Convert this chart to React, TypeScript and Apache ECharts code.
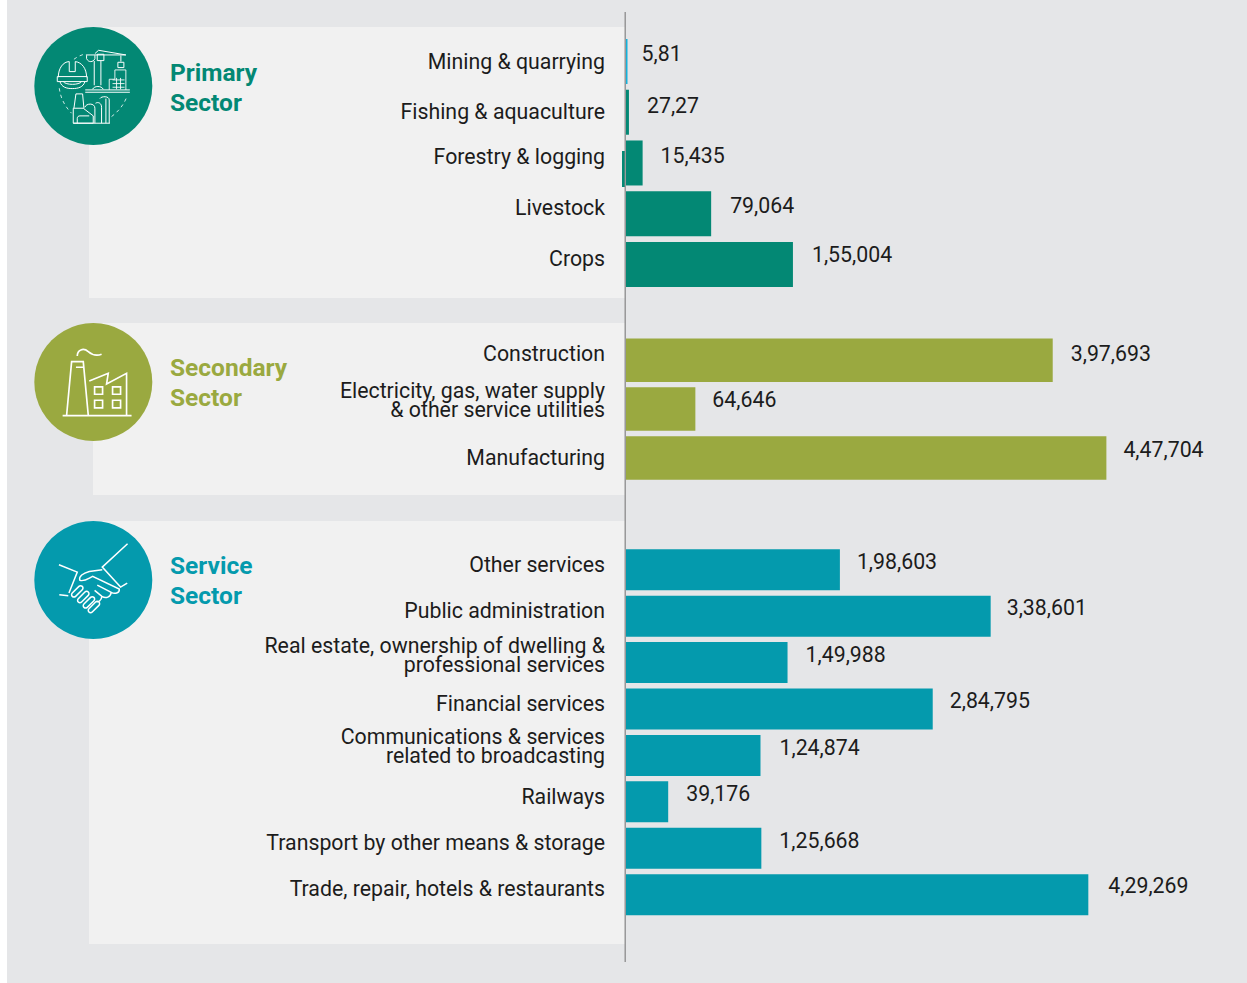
import React, { useEffect, useRef } from "react";
import * as echarts from "echarts";

// ---------- data ----------
const primaryCategories = ["Mining & quarrying", "Fishing & aquaculture", "Forestry & logging", "Livestock", "Crops"];
const primaryValues = [581, 2727, 15435, 79064, 155004];
const primaryLabels = ["5,81", "27,27", "15,435", "79,064", "1,55,004"];

const secondaryCategories = ["Construction", "Electricity, gas, water supply\n& other service utilities", "Manufacturing"];
const secondaryValues = [397693, 64646, 447704];
const secondaryLabels = ["3,97,693", "64,646", "4,47,704"];

const serviceCategories = [
  "Other services",
  "Public administration",
  "Real estate, ownership of dwelling &\nprofessional services",
  "Financial services",
  "Communications & services\nrelated to broadcasting",
  "Railways",
  "Transport by other means & storage",
  "Trade, repair, hotels & restaurants",
];
const serviceValues = [198603, 338601, 149988, 284795, 124874, 39176, 125668, 429269];
const serviceLabels = ["1,98,603", "3,38,601", "1,49,988", "2,84,795", "1,24,874", "39,176", "1,25,668", "4,29,269"];

// ---------- layout & style ----------
const GREEN = "#038874";
const OLIVE = "#9aa940";
const TEAL = "#049aad";
const CYAN = "#12b2dc";
const BG = "#e5e6e8";
const PANEL = "#f1f1f1";
const INK = "#1c1c1c";
const FONT = "Roboto";
const FS = 21.3;
const AXIS_X = 626;
const XMAX = 500000;

const sections = [
  { cats: primaryCategories, vals: primaryValues, labs: primaryLabels, color: GREEN, top: 36.1, pitch: 50.75, bar: 45, scale: 0.001077,
    catDy: [0, -1, -6, -6, -6], valDy: [-8, -7, -7, -8, -10], valDx: [14, 18, 18, 19, 19] },
  { cats: secondaryCategories, vals: secondaryValues, labs: secondaryLabels, color: OLIVE, top: 335.7, pitch: 48.9, bar: 43.5, scale: 0.001073,
    catDy: [-7, -9, 0], valDy: [-7, -10, -8], valDx: [18, 17, 17] },
  { cats: serviceCategories, vals: serviceValues, labs: serviceLabels, color: TEAL, top: 546.5, pitch: 46.43, bar: 41, scale: 0.001077,
    catDy: [-5, -6, -8, -6, -9, -5, -6, -6], valDy: [-8, -9, -8, -9, -8, -8, -8, -9], valDx: [17, 16, 18, 17, 19, 18, 18, 20] },
];

const shapes: Record<string, string> = {
  iconHelmet:
    "M175 232C175 205 190 185 208 185V215H226V185C245 187 260 205 260 232M172 230H262V245H172ZM180 245C185 262 200 266 217 266C235 266 250 262 255 245M190 245C197 256 238 256 245 245",
  iconCrane:
    "M283 183V256M303 183V256M278 268C283 257 305 257 310 268M256 270H390M256 277H390M258 165H378L296 151L285 161M260 166V176C265 188 280 188 285 176V166M292 163H312V182H292ZM363 167V185M354 187H372V203H354Z",
  iconBuilding:
    "M328 270V238H345V210H378V270M338 240H374M338 251H374M338 262H374M350 234V268M362 234V268",
  iconFactory:
    "M222 325L228 282H248L252 325M220 370V325H250L280 348V370ZM232 370V356C232 350 236 348 240 348H268M255 322C258 310 285 308 285 325V370M287 310C295 305 305 310 305 322V370M300 296C305 288 328 288 328 300V370M318 296V370M220 370H330",
  iconRing:
    "M178 265C182 295 195 320 215 340M335 350C355 335 372 315 381 290M222 178C232 170 245 165 255 162",
  iconStack:
    "M140 316L155 155H190L205 316M168 172H190M172 138C172 120 190 112 205 125C220 138 232 138 245 133M208 213L265 190L260 222L320 190V316M128 317H335M224 231H248V253H224ZM278 231H302V253H278ZM224 271H248V294H224ZM278 271H302V294H278Z",
  iconShake:
    "M117 765L172 787L147 850M118 855L145 858M323 702L247 772L302 832L322 820M247 780L208 785C190 790 175 800 180 812C195 816 205 806 218 800L298 838C300 850 284 854 274 848L232 826M274 848C272 862 258 868 246 860L224 842M246 860C244 872 236 878 230 876" +
    "M157 850L177 830A7 7 0 0 1 187 840L167 860A7 7 0 0 1 157 850Z" +
    "M175 867L195 847A7 7 0 0 1 205 857L185 877A7 7 0 0 1 175 867Z" +
    "M192 883L212 863A7 7 0 0 1 222 873L202 893A7 7 0 0 1 192 883Z" +
    "M207 897L227 877A7 7 0 0 1 237 887L217 907A7 7 0 0 1 207 897Z",
};
Object.entries(shapes).forEach(([name, d]) => {
  echarts.graphic.registerShape(name, echarts.graphic.extendPath(d, {}));
});

function icon(type: string, ox: number, oy: number, w: number, dash?: number[]) {
  return {
    type,
    x: ox,
    y: oy,
    scaleX: 1 / 3,
    scaleY: 1 / 3,
    silent: true,
    z: 12,
    style: { fill: "none", stroke: "#ffffff", lineWidth: w, lineDash: dash },
  };
}

function buildOption() {
  const grid = sections.map((s) => ({
    left: AXIS_X,
    top: s.top,
    width: XMAX * s.scale,
    height: s.pitch * s.cats.length,
    containLabel: false,
  }));
  const xAxis = sections.map((_, i) => ({
    type: "value",
    gridIndex: i,
    min: 0,
    max: XMAX,
    show: false,
  }));
  const yAxis = sections.map((s, i) => {
    const rich: Record<string, any> = {
      t: { fontFamily: FONT, fontSize: FS, lineHeight: 19, color: INK },
    };
    s.catDy.forEach((dy) => {
      if (dy !== 0) {
        const h = Math.abs(dy) * 2;
        rich["g" + h] = { fontSize: 1, lineHeight: h, height: h };
      }
    });
    return {
      type: "category",
      gridIndex: i,
      inverse: true,
      z: 6,
      data: s.cats,
      axisLine: { show: false },
      axisTick: { show: false },
      splitLine: { show: false },
      axisLabel: {
        interval: 0,
        margin: 21,
        color: INK,
        fontFamily: FONT,
        fontSize: FS,
        align: "right",
        rich,
        formatter: (val: string, idx: number) => {
          const body = val.split("\n").map((l) => `{t|${l}}`).join("\n");
          const dy = s.catDy[idx];
          return dy === 0 ? body : `${body}\n{g${Math.abs(dy) * 2}| }`;
        },
      },
    };
  });
  const series = sections.map((s, i) => ({
    type: "bar",
    xAxisIndex: i,
    yAxisIndex: i,
    barWidth: s.bar,
    barMinHeight: 1.5,
    z: 5,
    data: s.vals.map((v, j) => ({
      value: v,
      itemStyle: { color: i === 0 && j === 0 ? CYAN : s.color },
      label: {
        show: true,
        position: "right",
        distance: 0,
        offset: [s.valDx[j], s.valDy[j]],
        formatter: s.labs[j],
        color: INK,
        fontFamily: FONT,
        fontSize: FS,
      },
    })),
  }));

  const panel = (x: number, y: number, w: number, h: number) => ({
    type: "rect",
    silent: true,
    z: 1,
    shape: { x, y, width: w, height: h },
    style: { fill: PANEL },
  });
  const disc = (cy: number, fill: string) => ({
    type: "circle",
    silent: true,
    z: 10,
    shape: { cx: 93.3, cy, r: 59 },
    style: { fill },
  });
  const title = (text: string, y: number, fill: string) => ({
    type: "text",
    silent: true,
    z: 11,
    x: 170,
    y,
    style: { text, fill, fontFamily: FONT, fontWeight: "bold", fontSize: 24.5, lineHeight: 30, textAlign: "left", textVerticalAlign: "top" },
  });

  const graphic = [
    { type: "rect", silent: true, z: 0, shape: { x: 7, y: 0, width: 1240, height: 983 }, style: { fill: BG } },
    panel(89, 27, 536, 271),
    panel(93, 323, 532, 172),
    panel(89, 521, 536, 423),
    { type: "rect", silent: true, z: 3, shape: { x: 622, y: 151, width: 3, height: 36 }, style: { fill: GREEN } },
    { type: "line", silent: true, z: 8, shape: { x1: 625.2, y1: 12, x2: 625.2, y2: 962 }, style: { stroke: "#8c8c8c", lineWidth: 1.3 } },
    disc(86, GREEN),
    disc(382, OLIVE),
    disc(580, TEAL),
    title("Primary\nSector", 57, GREEN),
    title("Secondary\nSector", 352, OLIVE),
    title("Service\nSector", 550.5, TEAL),
    icon("iconHelmet", 0, 0, 3),
    icon("iconCrane", 0, 0, 3),
    icon("iconBuilding", 0, 0, 2.6),
    icon("iconFactory", 0, 0, 3),
    icon("iconRing", 0, 0, 2.4, [10, 10]),
    icon("iconStack", 20, 310, 5),
    icon("iconShake", 20, 310, 4.5),
  ];

  return {
    animation: false,
    backgroundColor: "#ffffff",
    grid,
    xAxis,
    yAxis,
    series,
    graphic: { elements: graphic },
  };
}

export default function App() {
  const ref = useRef<HTMLDivElement>(null);
  useEffect(() => {
    document.body.style.margin = "0";
    const chart = echarts.init(ref.current!, undefined, { renderer: "svg" });
    chart.setOption(buildOption() as any);
    return () => chart.dispose();
  }, []);
  return <div ref={ref} style={{ width: 1247, height: 983 }} />;
}
